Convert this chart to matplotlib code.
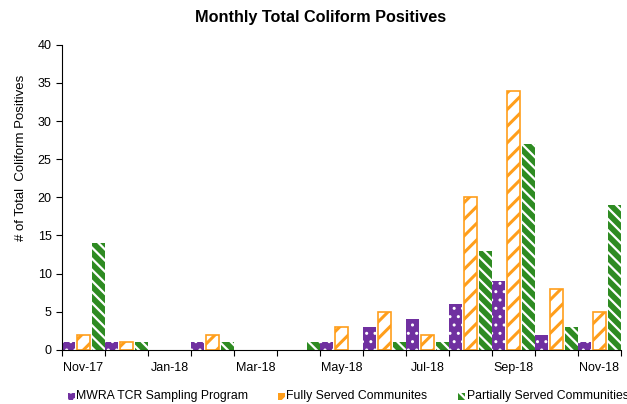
import matplotlib
matplotlib.use("Agg")
import matplotlib.pyplot as plt
from matplotlib.patches import Rectangle
import numpy as np

months = ["Nov-17", "Dec-17", "Jan-18", "Feb-18", "Mar-18", "Apr-18", "May-18",
          "Jun-18", "Jul-18", "Aug-18", "Sep-18", "Oct-18", "Nov-18"]
mwra = [1, 1, 0, 1, 0, 0, 1, 3, 4, 6, 9, 2, 1]
fully = [2, 1, 0, 2, 0, 0, 3, 5, 2, 20, 34, 8, 5]
partial = [14, 1, 0, 1, 0, 1, 0, 1, 1, 13, 27, 3, 19]
series_names = ["MWRA TCR Sampling Program", "Fully Served Communites",
                "Partially Served Communities"]

plt.rcParams['font.family'] = ['Liberation Sans', 'DejaVu Sans']

PURPLE = "#7030A0"
ORANGE = "#FF9E1B"
GREEN = "#2E8B22"

fig = plt.figure(figsize=(6.27, 4.04), dpi=100)
ax = fig.add_axes([0.099, 0.134, 0.891, 0.755])

x = np.arange(len(months))
w = 0.30
off = 0.35


def nonzero(vals):
    v = np.asarray(vals, dtype=float)
    idx = np.nonzero(v > 0)[0]
    return idx, v[idx]

# MWRA: purple with white dots
plt.rcParams['hatch.linewidth'] = 1.0
i, v = nonzero(mwra)
ax.bar(x[i] - off, v, w, color=PURPLE, linewidth=0)
ax.bar(x[i] - off, v, w, facecolor='none', edgecolor='white', hatch='..', linewidth=0)
# Fully: white with orange stripes
plt.rcParams['hatch.linewidth'] = 2.2
i, v = nonzero(fully)
ax.bar(x[i], v, w, facecolor='white', edgecolor=ORANGE, hatch='//', linewidth=1.2)
# Partially: green with white stripes
plt.rcParams['hatch.linewidth'] = 1.6
i, v = nonzero(partial)
ax.bar(x[i] + off, v, w, color=GREEN, linewidth=0)
ax.bar(x[i] + off, v, w, facecolor='none', edgecolor='white', hatch='\\\\\\', linewidth=0)

ax.set_xlim(-0.5, len(months) - 0.5)
ax.set_ylim(0, 40)
ax.set_yticks(np.arange(0, 41, 5))
ax.set_xticks(np.arange(-0.5, len(months), 1.0))
ax.set_xticklabels([])
ax.set_xticks(x[::2], minor=True)
ax.set_xticklabels([months[k] for k in x[::2]], minor=True)
ax.tick_params(axis='x', which='minor', length=0, labelsize=9, pad=9)
ax.tick_params(axis='x', which='major', length=4, direction='out')
ax.tick_params(axis='y', length=4, direction='out', labelsize=9)
ax.spines['top'].set_visible(False)
ax.spines['right'].set_visible(False)
ax.set_ylabel("# of Total  Coliform Positives", fontsize=9.5)
ax.yaxis.set_label_coords(-0.063, 0.63)
fig.text(0.512, 0.957, "Monthly Total Coliform Positives", ha='center', va='center',
         fontsize=11.7, fontweight='bold')

# legend (manual layout, pixel positions)
W, H = 627.0, 404.0
leg_y = 396
legend_items = [
    (68, dict(facecolor=PURPLE, edgecolor='white', hatch='..', linewidth=0)),
    (278, dict(facecolor=ORANGE, edgecolor='white', hatch='//', linewidth=0)),
    (458, dict(facecolor=GREEN, edgecolor='white', hatch='\\\\', linewidth=0)),
]
for (px, style), name in zip(legend_items, series_names):
    fig.add_artist(Rectangle((px / W, 1 - (leg_y + 3.5) / H), 7 / W, 7 / H,
                             transform=fig.transFigure, **style))
    fig.text((px + 8.5) / W, 1 - leg_y / H, name, ha='left', va='center', fontsize=8.8)

fig.savefig("out.png", dpi=100)
